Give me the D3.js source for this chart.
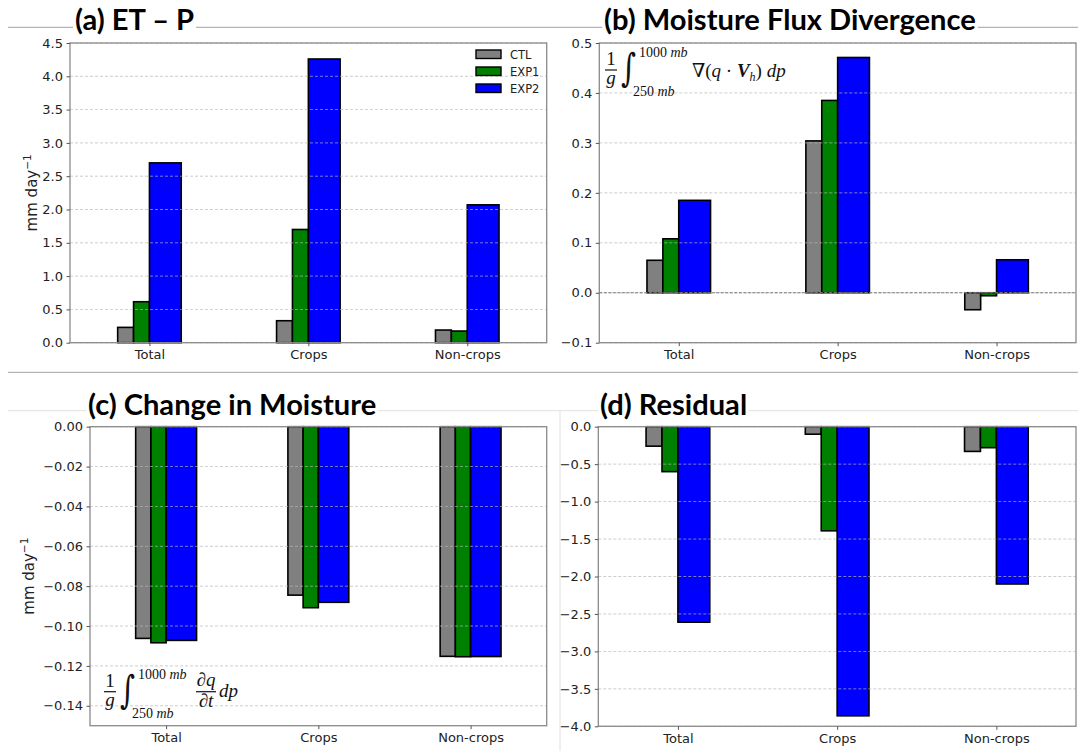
<!DOCTYPE html>
<html>
<head>
<meta charset="utf-8">
<script src="https://cdn.jsdelivr.net/npm/d3@7"></script>
<style>
  body { margin: 0; background: #fff; }
  svg { display: block; }
</style>
</head>
<body>
<svg id="fig" width="1078" height="751"></svg>
<script>
// ---- data -------------------------------------------------------------
const categories = ["Total", "Crops", "Non-crops"];
const seriesNames = ["CTL", "EXP1", "EXP2"];
const seriesColors = ["#808080", "#008000", "#0000ff"];

// (a) ET - P  [mm day-1]
const etpCTL  = [0.23, 0.33, 0.19];
const etpEXP1 = [0.615, 1.70, 0.175];
const etpEXP2 = [2.70, 4.26, 2.07];
const etpTicks = [0, 0.5, 1.0, 1.5, 2.0, 2.5, 3.0, 3.5, 4.0, 4.5];

// (b) vertically integrated moisture flux divergence
const mfdCTL  = [0.065, 0.304, -0.034];
const mfdEXP1 = [0.108, 0.385, -0.006];
const mfdEXP2 = [0.185, 0.471, 0.066];
const mfdTicks = [-0.1, 0.0, 0.1, 0.2, 0.3, 0.4, 0.5];

// (c) change in column moisture
const dqCTL  = [-0.1062, -0.0845, -0.1152];
const dqEXP1 = [-0.1084, -0.0908, -0.1154];
const dqEXP2 = [-0.1072, -0.0881, -0.1153];
const dqTicks = [-0.14, -0.12, -0.10, -0.08, -0.06, -0.04, -0.02, 0.00];

// (d) residual
const resCTL  = [-0.26, -0.10, -0.33];
const resEXP1 = [-0.60, -1.39, -0.28];
const resEXP2 = [-2.61, -3.86, -2.10];
const resTicks = [-4.0, -3.5, -3.0, -2.5, -2.0, -1.5, -1.0, -0.5, 0.0];

// ---- drawing ----------------------------------------------------------
const svg = d3.select("#fig");
const TICK_FONT = "'DejaVu Sans', sans-serif";
const TITLE_FONT = "Lato, 'Open Sans', sans-serif";
const MATH_FONT = "'Liberation Serif', 'DejaVu Serif', serif";

// bar extents relative to the category position (CTL, EXP1 narrow; EXP2 wide)
const barSpans = [[-0.2, -0.1], [-0.1, 0.0], [0.0, 0.2]];

// slide separators behind the panel titles
const sep = svg.append("g").attr("fill", "none");
sep.append("line").attr("x1", 8).attr("x2", 1078).attr("y1", 27.3).attr("y2", 27.3)
  .attr("stroke", "#b4b4b4").attr("stroke-width", 1.2);
sep.append("line").attr("x1", 8).attr("x2", 1078).attr("y1", 372.3).attr("y2", 372.3)
  .attr("stroke", "#b4b4b4").attr("stroke-width", 1.2);
sep.append("line").attr("x1", 8).attr("x2", 1078).attr("y1", 410.7).attr("y2", 410.7)
  .attr("stroke", "#e0e0e0").attr("stroke-width", 1);
sep.append("line").attr("x1", 560).attr("x2", 560).attr("y1", 410.7).attr("y2", 751)
  .attr("stroke", "#e0e0e0").attr("stroke-width", 1);

function drawPanel(cfg) {
  const g = svg.append("g");
  const x = d3.scaleLinear().domain([-0.5, 2.5]).range([cfg.left, cfg.right]);
  const y = d3.scaleLinear().domain(cfg.domain).range([cfg.bottom, cfg.top]);

  // bars
  cfg.series.forEach((vals, si) => {
    g.append("g").selectAll("rect").data(vals).join("rect")
      .attr("x", (d, i) => x(i + barSpans[si][0]))
      .attr("width", (d, i) => x(i + barSpans[si][1]) - x(i + barSpans[si][0]))
      .attr("y", d => y(Math.max(0, d)))
      .attr("height", d => Math.abs(y(d) - y(0)))
      .attr("fill", seriesColors[si])
      .attr("stroke", "#000")
      .attr("stroke-width", 1.6);
  });

  // horizontal dashed grid, drawn over the bars
  g.append("g").selectAll("line").data(cfg.ticks).join("line")
    .attr("x1", cfg.left).attr("x2", cfg.right)
    .attr("y1", d => y(d)).attr("y2", d => y(d))
    .attr("stroke", "#b8b8b8").attr("stroke-width", 0.8)
    .attr("stroke-dasharray", "3,2").attr("opacity", 0.85);

  if (cfg.zeroLine) {
    g.append("line")
      .attr("x1", cfg.left).attr("x2", cfg.right)
      .attr("y1", y(0)).attr("y2", y(0))
      .attr("stroke", "#7a7a7a").attr("stroke-width", 1)
      .attr("stroke-dasharray", "3,1.5");
  }

  // frame
  g.append("rect")
    .attr("x", cfg.left).attr("y", cfg.top)
    .attr("width", cfg.right - cfg.left).attr("height", cfg.bottom - cfg.top)
    .attr("fill", "none").attr("stroke", "#8a8a8a").attr("stroke-width", 1.3);

  // axes
  const yAxis = g.append("g").attr("transform", `translate(${cfg.left},0)`)
    .call(d3.axisLeft(y).tickValues(cfg.ticks).tickFormat(d3.format(cfg.fmt))
      .tickSize(3.5).tickPadding(3.5));
  const xAxis = g.append("g").attr("transform", `translate(0,${cfg.bottom})`)
    .call(d3.axisBottom(x).tickValues([0, 1, 2]).tickFormat(i => categories[i])
      .tickSize(3.5).tickPadding(3.5));
  [yAxis, xAxis].forEach(ax => {
    ax.select(".domain").remove();
    ax.selectAll(".tick line").attr("stroke", "#555").attr("stroke-width", 1);
    ax.selectAll(".tick text")
      .attr("fill", "#222")
      .style("font-family", TICK_FONT)
      .style("font-size", "13px");
  });

  if (cfg.ylabel) {
    const t = g.append("text")
      .attr("transform", `translate(${cfg.ylabelX},${(cfg.top + cfg.bottom) / 2}) rotate(-90)`)
      .attr("text-anchor", "middle")
      .style("font-family", TICK_FONT).style("font-size", "15px").attr("fill", "#222");
    t.append("tspan").text("mm day");
    t.append("tspan").text("\u22121").attr("dy", -6).style("font-size", "10.5px");
  }
  return { x, y, g };
}

drawPanel({ left: 70, right: 546.7, top: 43, bottom: 342.7, domain: [0, 4.5],
  ticks: etpTicks, fmt: ".1f", series: [etpCTL, etpEXP1, etpEXP2], ylabel: true, ylabelX: 37 });
drawPanel({ left: 599.3, right: 1076, top: 43, bottom: 342.7, domain: [-0.1, 0.5],
  ticks: mfdTicks, fmt: ".1f", series: [mfdCTL, mfdEXP1, mfdEXP2], zeroLine: true });
drawPanel({ left: 90, right: 546.7, top: 426.7, bottom: 725.7, domain: [-0.15, 0],
  ticks: dqTicks, fmt: ".2f", series: [dqCTL, dqEXP1, dqEXP2], ylabel: true, ylabelX: 34 });
drawPanel({ left: 598.3, right: 1076, top: 426.7, bottom: 726.3, domain: [-4, 0],
  ticks: resTicks, fmt: ".1f", series: [resCTL, resEXP1, resEXP2] });

// legend in panel (a)
const leg = svg.append("g").attr("transform", "translate(476,54)");
seriesNames.forEach((name, i) => {
  const row = leg.append("g").attr("transform", `translate(0,${i * 17})`);
  row.append("rect").attr("x", 0).attr("y", -4).attr("width", 25).attr("height", 8.5)
    .attr("fill", seriesColors[i]).attr("stroke", "#000").attr("stroke-width", 1.4);
  row.append("text").attr("x", 34).attr("y", 4.5).text(name)
    .style("font-family", TICK_FONT).style("font-size", "11.5px").attr("fill", "#222");
});

// panel titles on white backing
const titles = [
  { text: "(a) ET \u2013 P", x: 75, y: 30 },
  { text: "(b) Moisture Flux Divergence", x: 604, y: 30 },
  { text: "(c) Change in Moisture", x: 88, y: 415 },
  { text: "(d) Residual", x: 600, y: 415 }
];
const titleG = svg.append("g");
const probe = titleG.append("text").text(titles[1].text)
  .style("font-family", TITLE_FONT).style("font-weight", "bold").style("font-size", "26px");
const titleSize = 26 * 372 / probe.node().getComputedTextLength();
probe.remove();
titles.forEach(t => {
  const tg = titleG.append("g");
  const txt = tg.append("text").attr("x", t.x).attr("y", t.y).text(t.text)
    .style("font-family", TITLE_FONT).style("font-weight", "bold")
    .style("font-size", titleSize + "px").attr("fill", "#000");
  const bb = txt.node().getBBox();
  tg.insert("rect", "text").attr("x", bb.x - 2).attr("y", bb.y + 2)
    .attr("width", bb.width + 4).attr("height", bb.height - 4).attr("fill", "#fff");
});

// equation annotations
function mathText(parent, x, y, str, size, opts = {}) {
  return parent.append("text").attr("x", x).attr("y", y).text(str)
    .style("font-family", MATH_FONT).style("font-size", size + "px")
    .style("font-style", opts.italic ? "italic" : "normal")
    .style("font-weight", opts.bold ? "bold" : "normal")
    .attr("text-anchor", opts.anchor || "start").attr("fill", "#111");
}
function integralBlock(parent, x0, yMid) {
  mathText(parent, x0 + 6, yMid - 5, "1", 19, { anchor: "middle" });
  parent.append("line").attr("x1", x0).attr("x2", x0 + 12).attr("y1", yMid).attr("y2", yMid)
    .attr("stroke", "#111").attr("stroke-width", 1.2);
  mathText(parent, x0 + 6, yMid + 14, "g", 19, { italic: true, anchor: "middle" });
  parent.append("text")
    .attr("transform", `translate(${x0 + 16},${yMid + 11}) scale(0.78,1.05)`)
    .text("\u222B")
    .style("font-family", "'DejaVu Serif', serif").style("font-size", "37px")
    .attr("fill", "#111");
  const up = mathText(parent, x0 + 34, yMid - 13, "1000 ", 14);
  up.append("tspan").text("mb").style("font-style", "italic");
  const lo = mathText(parent, x0 + 28, yMid + 26, "250 ", 14);
  lo.append("tspan").text("mb").style("font-style", "italic");
}

const fb = svg.append("g");
integralBlock(fb, 605, 70);
const fbt = mathText(fb, 692, 77, "\u2207(", 19);
fbt.append("tspan").text("q").style("font-style", "italic");
fbt.append("tspan").text(" \u00B7 ");
fbt.append("tspan").text("V").style("font-style", "italic").style("font-weight", "bold");
fbt.append("tspan").text("h").style("font-style", "italic").style("font-size", "12px").attr("dy", 4);
fbt.append("tspan").text(") ").attr("dy", -4);
fbt.append("tspan").text("dp").style("font-style", "italic");

const fc = svg.append("g");
integralBlock(fc, 104, 691.7);
mathText(fc, 206, 686, "\u2202q", 19, { italic: true, anchor: "middle" });
fc.append("line").attr("x1", 196).attr("x2", 216).attr("y1", 691.7).attr("y2", 691.7)
  .attr("stroke", "#111").attr("stroke-width", 1.2);
mathText(fc, 206, 707, "\u2202t", 19, { italic: true, anchor: "middle" });
mathText(fc, 219, 697, "dp", 19, { italic: true });
</script>
</body>
</html>
